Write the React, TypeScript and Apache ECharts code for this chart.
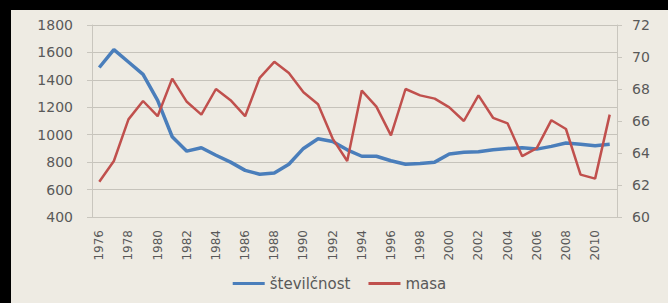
import React, { useEffect, useRef } from "react";
import * as echarts from "echarts";

const years: string[] = [];
for (let y = 1976; y <= 2011; y++) years.push(String(y));

const stevilcnost = [
  1490, 1620, 1530, 1440, 1250, 985, 880, 905, 850, 800, 740, 712,
  720, 785, 900, 970, 950, 890, 843, 843, 810, 785, 790, 800,
  860, 872, 875, 890, 900, 905, 895, 915, 940, 930, 920, 930,
];

const masa = [
  62.2, 63.5, 66.1, 67.25, 66.3, 68.65, 67.2, 66.4, 68.0, 67.3, 66.3, 68.7,
  69.7, 69.0, 67.8, 67.05, 64.9, 63.5, 67.9, 66.9, 65.1, 68.0, 67.6, 67.4,
  66.85, 66.0, 67.6, 66.2, 65.85, 63.8, 64.3, 66.05, 65.5, 62.65, 62.4, 66.4,
];

const seriesNames = ["številčnost", "masa"];

export default function App() {
  const ref = useRef<HTMLDivElement>(null);
  useEffect(() => {
    if (!ref.current) return;
    const chart = echarts.init(ref.current, undefined, { renderer: "svg" });
    const textColor = "#595959";
    const axisLineColor = "#c9c6be";
    chart.setOption({
      animation: false,
      backgroundColor: "#eeebe3",
      grid: { left: 81, right: 51, top: 15, bottom: 86 },
      legend: {
        bottom: 7,
        itemGap: 18,
        itemWidth: 32,
        itemHeight: 3,
        icon: "rect",
        textStyle: { color: textColor, fontSize: 15, fontFamily: "DejaVu Sans" },
        data: seriesNames,
      },
      xAxis: {
        type: "category",
        data: years,
        boundaryGap: true,
        axisLine: { show: true, lineStyle: { color: axisLineColor } },
        axisTick: { show: false },
        axisLabel: {
          rotate: 90,
          interval: 1,
          margin: 13,
          color: textColor,
          fontSize: 12,
          fontFamily: "DejaVu Sans",
        },
      },
      yAxis: [
        {
          type: "value",
          min: 400,
          max: 1800,
          interval: 200,
          axisLine: { show: true, lineStyle: { color: axisLineColor } },
          axisTick: { show: true, length: 5, lineStyle: { color: axisLineColor } },
          splitLine: { show: true, lineStyle: { color: "#c6c3bb", width: 1 } },
          axisLabel: {
            margin: 19,
            color: textColor,
            fontSize: 14,
            fontFamily: "DejaVu Sans",
            formatter: (v: number) => String(v),
          },
        },
        {
          type: "value",
          min: 60,
          max: 72,
          interval: 2,
          position: "right",
          axisLine: { show: true, lineStyle: { color: axisLineColor } },
          axisTick: { show: true, length: 5, lineStyle: { color: axisLineColor } },
          splitLine: { show: false },
          axisLabel: {
            margin: 15,
            color: textColor,
            fontSize: 14,
            fontFamily: "DejaVu Sans",
            formatter: (v: number) => String(v),
          },
        },
      ],
      series: [
        {
          name: seriesNames[0],
          type: "line",
          yAxisIndex: 0,
          data: stevilcnost,
          symbol: "none",
          lineStyle: { color: "#4a7ebb", width: 3.5 },
          itemStyle: { color: "#4a7ebb" },
          z: 2,
        },
        {
          name: seriesNames[1],
          type: "line",
          yAxisIndex: 1,
          data: masa,
          symbol: "none",
          lineStyle: { color: "#c0504d", width: 2.5 },
          itemStyle: { color: "#c0504d" },
          z: 3,
        },
      ],
    });
    return () => chart.dispose();
  }, []);
  return (
    <div
      style={{
        position: "absolute",
        left: 0,
        top: 0,
        width: 668,
        height: 303,
        background: "#000",
        overflow: "hidden",
      }}
    >
      <div
        ref={ref}
        style={{ position: "absolute", left: 11, top: 10, width: 657, height: 293 }}
      />
    </div>
  );
}
